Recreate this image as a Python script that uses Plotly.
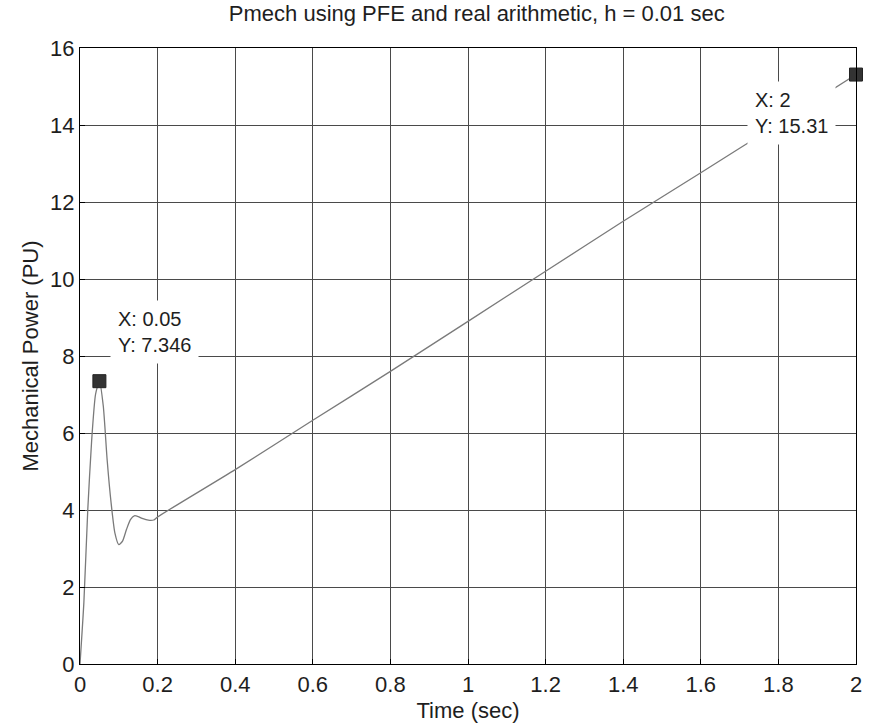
import plotly.graph_objects as go

time_s = [0, 0.01, 0.02, 0.03, 0.04, 0.05, 0.06, 0.07, 0.08, 0.09, 0.10,
          0.11, 0.12, 0.13, 0.14, 0.15, 0.16, 0.17, 0.18, 0.19, 0.20,
          0.4, 0.6, 0.8, 1.0, 1.2, 1.4, 1.6, 1.8, 2.0]
pmech = [0, 1.6, 4.0, 5.8, 7.0, 7.35, 6.7, 5.3, 4.2, 3.4, 3.1,
         3.2, 3.5, 3.75, 3.85, 3.83, 3.78, 3.75, 3.73, 3.74, 3.82,
         5.05, 6.33, 7.6, 8.9, 10.2, 11.5, 12.76, 14.03, 15.31]

marker_x = [0.05, 2]
marker_y = [7.346, 15.31]
marker_labels = ["X: 0.05<br>Y: 7.346", "X: 2<br>Y: 15.31"]
label_pos = [(0.077, 9.45), (1.72, 15.15)]

x_ticks = [0, 0.2, 0.4, 0.6, 0.8, 1, 1.2, 1.4, 1.6, 1.8, 2]
x_tick_text = ["0", "0.2", "0.4", "0.6", "0.8", "1", "1.2", "1.4", "1.6", "1.8", "2"]
y_ticks = [0, 2, 4, 6, 8, 10, 12, 14, 16]

FONT = "Liberation Sans, Arial, sans-serif"
TXT = "#1e1e1e"

fig = go.Figure()
fig.add_trace(go.Scatter(x=time_s, y=pmech, mode="lines",
                         line=dict(color="#7a7a7a", width=1.3, shape="spline", smoothing=0.6),
                         showlegend=False, hoverinfo="skip"))

for (lx, ly), txt in zip(label_pos, marker_labels):
    fig.add_annotation(x=lx, y=ly, text=txt, showarrow=False, xanchor="left", yanchor="top",
                       align="left", bgcolor="white", borderpad=7,
                       font=dict(family=FONT, size=20, color=TXT))

fig.add_trace(go.Scatter(x=marker_x, y=marker_y, mode="markers",
                         marker=dict(symbol="square", size=13, color="#333333",
                                     line=dict(color="#222222", width=1)),
                         showlegend=False, cliponaxis=False))

axis_common = dict(showline=True, linecolor="black", linewidth=1.2, mirror=True,
                   showgrid=True, gridcolor="#4a4a4a", gridwidth=1,
                   ticks="inside", ticklen=5, tickcolor="black",
                   tickfont=dict(family=FONT, size=22, color=TXT),
                   zeroline=False)

fig.update_xaxes(range=[0, 2], tickvals=x_ticks, ticktext=x_tick_text,
                 title=dict(text="Time (sec)", font=dict(family=FONT, size=22, color=TXT), standoff=7),
                 **axis_common)
fig.update_yaxes(range=[0, 16], tickvals=y_ticks,
                 title=dict(text="Mechanical Power (PU)", font=dict(family=FONT, size=22, color=TXT), standoff=5),
                 **axis_common)

fig.update_layout(
    width=870, height=728,
    margin=dict(l=80, r=8, t=48, b=64),
    paper_bgcolor="white", plot_bgcolor="white",
    title=dict(text="Pmech using PFE and real arithmetic, h = 0.01 sec",
               font=dict(family=FONT, size=22, color=TXT),
               x=0.548, xanchor="center", y=0.982, yanchor="middle"),
)

fig.write_html("out.html")
